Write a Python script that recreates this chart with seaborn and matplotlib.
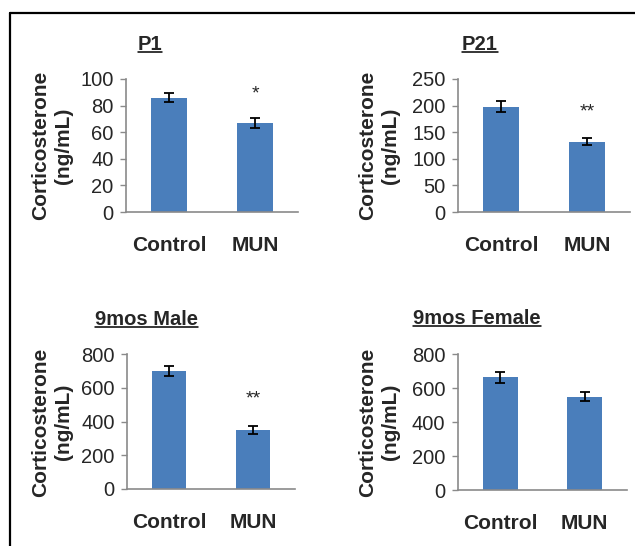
import matplotlib
matplotlib.use("Agg")
import matplotlib.pyplot as plt
from matplotlib.lines import Line2D
import seaborn as sns
import pandas as pd

# ---- data ----
categories = ["Control", "MUN"]
titles = ["P1", "P21", "9mos Male", "9mos Female"]
p1_means = [86, 67]
p1_err = [3.5, 3.5]
p21_means = [198, 132]
p21_err = [10, 6.5]
male_means = [700, 350]
male_err = [30, 23]
female_means = [662, 548]
female_err = [33, 27]
sig_labels = [["", "*"], ["", "**"], ["", "**"], ["", ""]]
sig_y = [[0, 85], [0, 180], [0, 509], [0, 0]]
y_max = [100, 250, 800, 800]
y_step = [20, 50, 200, 200]
ylabel = "Corticosterone\n(ng/mL)"

means = [p1_means, p21_means, male_means, female_means]
errs = [p1_err, p21_err, male_err, female_err]

sns.set_style("white")
plt.rcParams["font.family"] = ["Liberation Sans", "DejaVu Sans"]

W, H = 635, 546
fig = plt.figure(figsize=(W / 100, H / 100), dpi=100)

# axes boxes in pixels: left, right, top, bottom
boxes = [(126, 298, 79, 212), (458, 630, 79, 212),
         (127, 295, 354, 489), (458, 627, 354, 490)]
title_pos = [(150, 49.5), (480, 49.5), (146.5, 325), (477, 324)]
ylabel_pos = [(52, 145.5), (379, 145.5), (52, 422), (379, 422)]
bar_color = "#4A7EBB"
spine_color = "#8a8a8a"

title_texts = []
for i in range(4):
    l, r, t, b = boxes[i]
    ax = fig.add_axes([l / W, 1 - b / H, (r - l) / W, (b - t) / H])
    df = pd.DataFrame({"group": categories, "value": means[i]})
    sns.barplot(data=df, x="group", y="value", color=bar_color, saturation=1,
                width=0.41, linewidth=0, errorbar=None, ax=ax)
    ax.errorbar(range(len(categories)), means[i], yerr=errs[i], fmt="none",
                ecolor="black", elinewidth=1.3, capsize=3.6, capthick=1.3)
    for j, s in enumerate(sig_labels[i]):
        if s:
            ax.text(j, sig_y[i][j], s, ha="center", va="baseline", fontsize=14)
    ax.set_xlim(-0.5, 1.5)
    ax.set_ylim(0, y_max[i])
    ax.set_yticks(range(0, y_max[i] + 1, y_step[i]))
    ax.set_xlabel("")
    ax.set_ylabel("")
    for side in ["top", "right"]:
        ax.spines[side].set_visible(False)
    for side in ["left", "bottom"]:
        ax.spines[side].set_color(spine_color)
        ax.spines[side].set_linewidth(1.2)
    ax.tick_params(axis="y", left=True, length=4, width=1, color=spine_color,
                   labelsize=14.5, pad=5, direction="out")
    ax.tick_params(axis="x", length=0, pad=17)
    for lab in ax.get_xticklabels():
        lab.set_fontsize(15)
        lab.set_fontweight("bold")
    ax.patch.set_alpha(0)
    yx, yy = ylabel_pos[i]
    fig.text(yx / W, 1 - yy / H, ylabel, rotation=90, ha="center", va="center",
             multialignment="center", fontsize=15, fontweight="bold",
             linespacing=1.25)
    tx, ty = title_pos[i]
    tt = fig.text(tx / W, 1 - ty / H, titles[i], ha="center", va="baseline",
                  fontsize=14.5, fontweight="bold")
    title_texts.append((tt, ty))

# underline titles
fig.canvas.draw()
renderer = fig.canvas.get_renderer()
for tt, ty in title_texts:
    bb = tt.get_window_extent(renderer=renderer)
    yline = 1 - (ty + 2.2) / H
    fig.add_artist(Line2D([bb.x0 / W, bb.x1 / W], [yline, yline],
                          transform=fig.transFigure, color="black", lw=1.1))

# figure frame (top and left)
fig.add_artist(Line2D([10 / W, 1], [1 - 13 / H, 1 - 13 / H],
                      transform=fig.transFigure, color="black", lw=1.6))
fig.add_artist(Line2D([10 / W, 10 / W], [1 - 13 / H, 0],
                      transform=fig.transFigure, color="black", lw=1.6))

fig.savefig("out.png", dpi=100)
